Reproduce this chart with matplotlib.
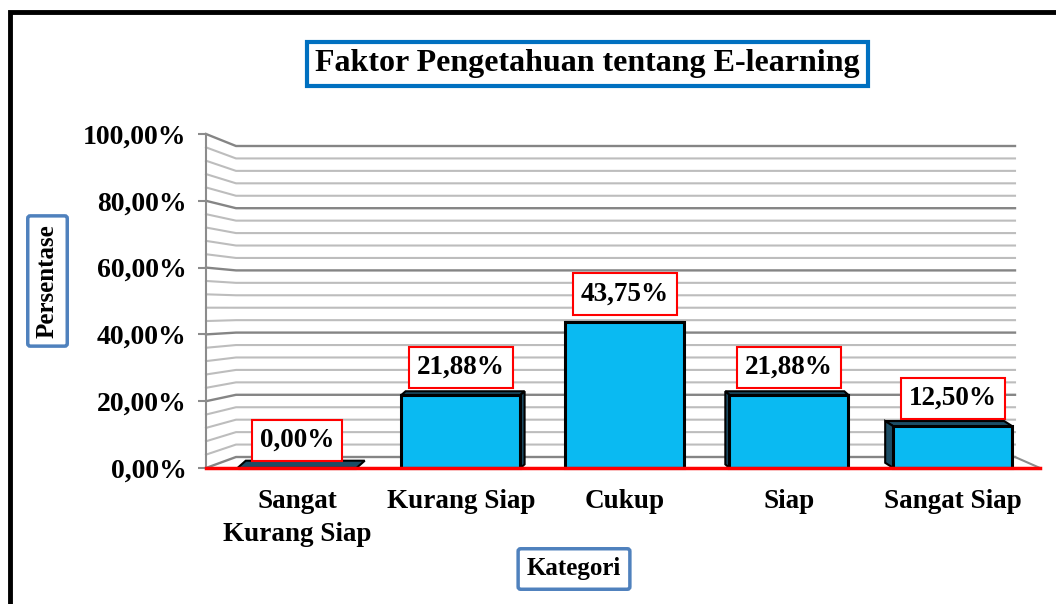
import matplotlib
matplotlib.use("Agg")
import matplotlib.pyplot as plt
from matplotlib.patches import Rectangle, Polygon

categories = ["Sangat\nKurang Siap", "Kurang Siap", "Cukup", "Siap", "Sangat Siap"]
values = [0.00, 21.88, 43.75, 21.88, 12.50]
value_labels = ["0,00%", "21,88%", "43,75%", "21,88%", "12,50%"]
y_ticks = [0, 20, 40, 60, 80, 100]
y_tick_labels = ["0,00%", "20,00%", "40,00%", "60,00%", "80,00%", "100,00%"]
title = "Faktor Pengetahuan tentang E-learning"
x_title = "Kategori"
y_title = "Persentase"

plt.rcParams['font.family'] = ['Liberation Serif', 'DejaVu Serif']
plt.rcParams['font.weight'] = 'bold'

W, H = 1056, 604
fig = plt.figure(figsize=(W / 100, H / 100), dpi=100)
ax = fig.add_axes([206 / W, (H - 468) / H, (1043 - 206) / W, (468 - 134) / H])
x0, x1 = -0.555, 4.55
ax.set_xlim(x0, x1)
ax.set_ylim(0, 100)
for s in ['top', 'right', 'bottom']:
    ax.spines[s].set_visible(False)
ax.spines['left'].set_color('#8c8c8c')
ax.spines['left'].set_linewidth(1.5)
ax.patch.set_alpha(0)

# px-to-data conversion
px_x = (x1 - x0) / (1043 - 206)
px_y = 100 / (468 - 134)

# back wall gridlines (pseudo 3D)
xb0, xb1 = x0 + 30 * px_x, x0 + (1015 - 206) * px_x
def back(v):
    return 11 * px_y + v * (457 - 146) / 100 * px_y

for v in range(0, 101, 4):
    major = v % 20 == 0
    ax.plot([x0, xb0, xb1], [v, back(v), back(v)],
            color='#858585' if major else '#bdbdbd',
            lw=1.7 if major else 1.5, zorder=1, clip_on=False)
# floor right diagonal and front red edge
ax.plot([xb1, x0 + (1040 - 206) * px_x], [back(0), 0], color='#8c8c8c', lw=1.5,
        zorder=1, clip_on=False)
ax.plot([x0, x0 + (1040 - 206) * px_x], [0, 0], color='red', lw=2.5, zorder=6,
        clip_on=False)

# bars with pseudo 3D faces
bw = 119 / 164
front_col = '#0ABAF2'
dark_col = '#1C4E66'
xs = list(range(len(categories)))
for i, (x, v) in enumerate(zip(xs, values)):
    cx_px = 297 + 164 * x
    top_px = 468 - v / px_y
    dxp = (627 - cx_px) * 0.025
    dyp = max(0.0, (top_px - 322) * 0.05)
    dx, dy = dxp * px_x, dyp * px_y
    l, r = x - bw / 2, x + bw / 2
    top = Polygon([(l, v), (r, v), (r + dx, v + dy), (l + dx, v + dy)],
                  closed=True, fc=dark_col, ec='black', lw=1.5, zorder=3,
                  clip_on=False)
    ax.add_patch(top)
    if dx != 0 and v > 0:
        sx = r if dx > 0 else l
        side = Polygon([(sx, 0), (sx, v), (sx + dx, v + dy), (sx + dx, dy)],
                       closed=True, fc=dark_col, ec='black', lw=1.5, zorder=3,
                       clip_on=False)
        ax.add_patch(side)
ax.bar(xs, values, width=bw, color=front_col, edgecolor='black', linewidth=2.2,
       zorder=4, clip_on=False)

for x, v, t in zip(xs, values, value_labels):
    ax.annotate(t, (x, v), xytext=(0, 20), textcoords='offset points',
                ha='center', va='center', fontsize=19.5, fontweight='bold',
                zorder=7,
                bbox=dict(boxstyle='square,pad=0.3', fc='white', ec='red', lw=1.5))

ax.set_yticks(y_ticks)
ax.set_yticklabels(y_tick_labels, fontsize=20, fontweight='bold')
ax.tick_params(axis='y', length=6, width=1.5, color='#8c8c8c', pad=8)
ax.set_xticks(xs)
ax.set_xticklabels(categories, fontsize=19.5, fontweight='bold', linespacing=1.45)
ax.tick_params(axis='x', length=0, pad=15)

fig.text(587.5 / W, (H - 64) / H, title, ha='center', va='center', fontsize=23,
         fontweight='bold',
         bbox=dict(boxstyle='square,pad=0.25', fc='white', ec='#0070C0', lw=3))
fig.text(47.5 / W, (H - 281) / H, y_title, rotation=90, ha='center', va='center',
         fontsize=18, fontweight='bold',
         bbox=dict(boxstyle='round,pad=0.33,rounding_size=0.1', fc='white',
                   ec='#4F81BD', lw=2.5))
fig.text(574 / W, (H - 569) / H, x_title, ha='center', va='center',
         fontsize=18, fontweight='bold',
         bbox=dict(boxstyle='round,pad=0.35,rounding_size=0.1', fc='white',
                   ec='#4F81BD', lw=2.5))

fig.patches.append(Rectangle((9.5 / W, -0.1), 1.2, (H - 11.5) / H + 0.1,
                             transform=fig.transFigure, fill=False, ec='black',
                             lw=3.5, zorder=10))

fig.savefig('out.png', dpi=100)
